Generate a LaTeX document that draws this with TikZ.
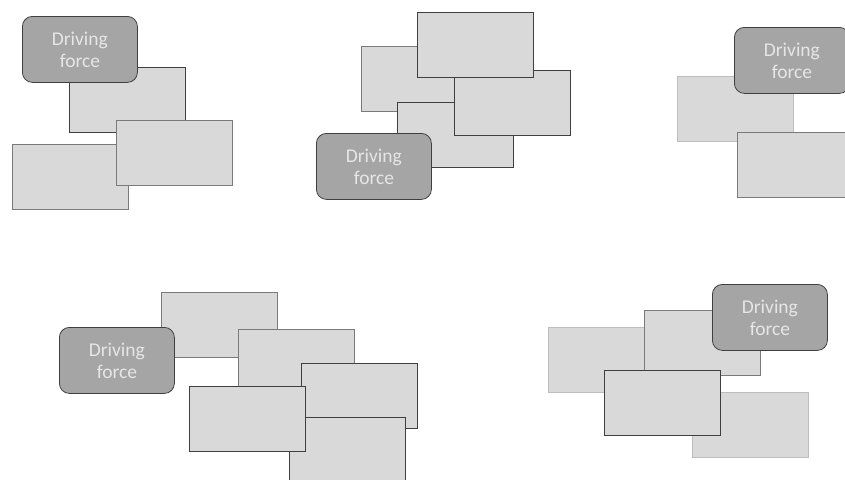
\documentclass[tikz,border=0pt]{standalone}
\usepackage{fontspec}
\setmainfont{Carlito}
\usepackage{tikz}
\usetikzlibrary{positioning}
\definecolor{panefill}{HTML}{D9D9D9}
\definecolor{panemid}{HTML}{7A7A7A}
\definecolor{panedark}{HTML}{3F3F3F}
\definecolor{panelight}{HTML}{BDBDBD}
\definecolor{forcefill}{HTML}{A5A5A5}
\definecolor{forcetext}{HTML}{E6E6E6}

\begin{document}
\begin{tikzpicture}[
  x=1pt, y=-1pt,
  pane/.style={rectangle, draw=panemid, fill=panefill, line width=0.8pt,
               minimum width=116pt, minimum height=65pt, anchor=north west,
               inner sep=0pt},
  panedk/.style={pane, draw=panedark},
  panelt/.style={pane, draw=panelight},
  force/.style={rectangle, rounded corners=10pt, draw=panedark,
               fill=forcefill, line width=0.8pt, minimum width=115pt,
               minimum height=66pt, anchor=north west, align=center,
               text=forcetext, font=\fontsize{19.5}{22}\selectfont,
               inner sep=0pt},
]
\useasboundingbox (0,0) rectangle (845,479);

% group 1
\node[panedk] (a1) at (69,67) {};
\node[pane]   (b1) at (12,144) {};
\node[pane]   (c1) at (116,120) {};
\node[force]  (df1) at (22,16) {Driving\\force};

% group 2
\node[pane]   (l2) at (361,46) {};
\node[panedk] (m2) at (397,102) {};
\node[panedk] (r2) at (454,70) {};
\node[panedk] (t2) at (417,12) {};
\node[force]  (df2) at (316,133) {Driving\\force};

% group 3
\node[panelt] (l3) at (677,76) {};
\node[force]  (df3) at (734,27) {Driving\\force};
\node[pane]   (b3) at (737,132) {};

% group 4
\node[pane]   (t4) at (161,292) {};
\node[force]  (df4) at (59,327) {Driving\\force};
\node[pane]   (s4) at (238,329) {};
\node[panedk] (u4) at (301,363) {};
\node[panedk] (v4) at (289,417) {};
\node[panedk] (w4) at (189,386) {};

% group 5
\node[panelt] (l5) at (548,327) {};
\node[pane]   (m5) at (644,310) {};
\node[force]  (df5) at (712,284) {Driving\\force};
\node[panelt] (r5) at (692,392) {};
\node[panedk] (f5) at (604,370) {};
\end{tikzpicture}
\end{document}
